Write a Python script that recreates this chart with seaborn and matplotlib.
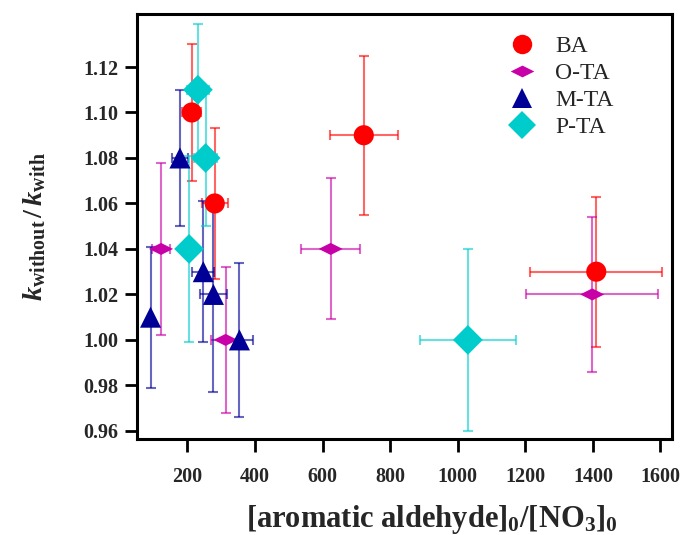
import numpy as np
import pandas as pd
import matplotlib
matplotlib.use("Agg")
import matplotlib.pyplot as plt
import seaborn as sns
from matplotlib.path import Path
from matplotlib.lines import Line2D

# ---- data ----
series_names = ["BA", "O-TA", "M-TA", "P-TA"]

ba_x = [213, 281, 722, 1410]
ba_y = [1.10, 1.06, 1.09, 1.03]
ba_xerr = [28, 38, 100, 195]
ba_yerr = [0.030, 0.033, 0.035, 0.033]

ota_x = [122, 313, 624, 1398]
ota_y = [1.04, 1.00, 1.04, 1.02]
ota_xerr = [28, 42, 87, 195]
ota_yerr = [0.038, 0.032, 0.031, 0.034]

mta_x = [91, 178, 247, 277, 354]
mta_y = [1.01, 1.08, 1.03, 1.02, 1.00]
mta_xerr = [5, 25, 33, 39, 40]
mta_yerr = [0.031, 0.030, 0.031, 0.043, 0.034]

pta_x = [205, 231, 254, 1030]
pta_y = [1.04, 1.11, 1.08, 1.00]
pta_xerr = [15, 33, 33, 142]
pta_yerr = [0.041, 0.029, 0.030, 0.040]

x_ticks = [200, 400, 600, 800, 1000, 1200, 1400, 1600]
y_ticks = [0.96, 0.98, 1.00, 1.02, 1.04, 1.06, 1.08, 1.10, 1.12]

# ---- style ----
sns.set_theme(style="white")
plt.rcParams["font.family"] = ["Liberation Serif", "DejaVu Serif"]
plt.rcParams["mathtext.fontset"] = "custom"
plt.rcParams["mathtext.rm"] = "Liberation Serif:bold"
plt.rcParams["mathtext.bf"] = "Liberation Serif:bold"
plt.rcParams["mathtext.it"] = "Liberation Serif:italic:bold"

colors = {"BA": "#FF0000", "O-TA": "#C800A8", "M-TA": "#000096", "P-TA": "#00CCCC"}
flat_diamond = Path([(-1, 0), (0, 0.5), (1, 0), (0, -0.5), (-1, 0)],
                    [Path.MOVETO, Path.LINETO, Path.LINETO, Path.LINETO, Path.CLOSEPOLY])
markers = {"BA": "o", "O-TA": flat_diamond, "M-TA": "^", "P-TA": "D"}
sizes = {"BA": 210, "O-TA": 300, "M-TA": 230, "P-TA": 230}

frames = []
for name, xs, ys, xe, ye in [("BA", ba_x, ba_y, ba_xerr, ba_yerr),
                             ("O-TA", ota_x, ota_y, ota_xerr, ota_yerr),
                             ("M-TA", mta_x, mta_y, mta_xerr, mta_yerr),
                             ("P-TA", pta_x, pta_y, pta_xerr, pta_yerr)]:
    frames.append(pd.DataFrame({"x": xs, "y": ys, "xerr": xe, "yerr": ye, "series": name}))
df = pd.concat(frames, ignore_index=True)

fig = plt.figure(figsize=(6.88, 5.35), dpi=100)
ax = fig.add_axes([0.1987, 0.1789, 0.7780, 0.7949])

for name in series_names:
    d = df[df.series == name]
    ax.errorbar(d.x, d.y, xerr=d.xerr, yerr=d.yerr, fmt="none",
                ecolor=colors[name], alpha=0.6, elinewidth=1.5,
                capsize=3.6, capthick=1.5, zorder=2)

for name in series_names:
    d = df[df.series == name]
    sns.scatterplot(data=d, x="x", y="y", marker=markers[name], s=sizes[name],
                    color=colors[name], edgecolor="none", linewidth=0,
                    ax=ax, zorder=3, legend=False)

ax.set_xlim(50, 1634)
ax.set_ylim(0.9563, 1.1433)
ax.set_xticks(x_ticks)
ax.set_yticks(y_ticks)
ax.set_xticklabels([str(v) for v in x_ticks])
ax.set_yticklabels([f"{v:.2f}" for v in y_ticks])

for s in ax.spines.values():
    s.set_visible(True)
    s.set_color("black")
    s.set_linewidth(2.2)
ax.tick_params(axis="both", which="both", direction="out", length=9, width=2,
               color="black", labelsize=14.5, bottom=True, left=True, top=False, right=False)
ax.tick_params(axis="x", pad=11)
ax.tick_params(axis="y", pad=4)
for lab in ax.get_xticklabels() + ax.get_yticklabels():
    lab.set_fontweight("bold")

ax.set_xlabel(r"[aromatic aldehyde]$_\mathbf{0}$/[NO$_\mathbf{3}$]$_\mathbf{0}$",
              fontsize=22, fontweight="bold")
ax.xaxis.set_label_coords(0.552, -0.15)
ax.set_ylabel(r"$k_{\mathbf{without}}\,\mathbf{/}\,k_{\mathbf{with}}$", fontsize=20.5)
ax.yaxis.set_label_coords(-0.165, 0.5)

handles = []
for name in series_names:
    handles.append(Line2D([], [], linestyle="none", marker=markers[name],
                          color=colors[name], markersize=14 if name != "O-TA" else 17,
                          markeredgewidth=0))
leg = ax.legend(handles, series_names, loc="upper left", frameon=False,
                fontsize=17, bbox_to_anchor=(0.687, 0.95), borderaxespad=0,
                borderpad=0, handlelength=1.5, handletextpad=0.65,
                labelspacing=0.24)
ax.grid(False)

fig.savefig("out.png", dpi=100)
